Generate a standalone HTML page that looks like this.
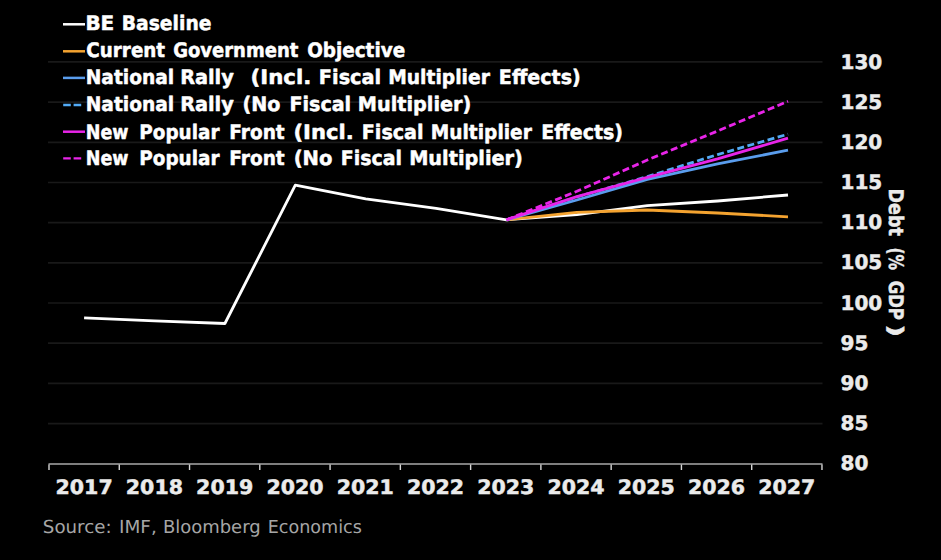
<!DOCTYPE html>
<html><head><meta charset="utf-8"><title>Debt (% GDP)</title>
<style>
html,body{margin:0;padding:0;background:#000;overflow:hidden}
svg{display:block}
text{text-rendering:geometricPrecision}
.b{font-family:"DejaVu Sans","Liberation Sans",sans-serif;font-weight:bold;stroke-width:0.5px;stroke-linejoin:round}
.r{font-family:"DejaVu Sans","Liberation Sans",sans-serif;font-weight:normal}
</style></head><body>
<svg width="941" height="560" viewBox="0 0 941 560">
<rect x="0" y="0" width="941" height="560" fill="#000"/>
<g stroke="#191919" stroke-width="1.7"><line x1="48" y1="423.54" x2="822.5" y2="423.54"/><line x1="48" y1="383.36" x2="822.5" y2="383.36"/><line x1="48" y1="343.19" x2="822.5" y2="343.19"/><line x1="48" y1="303.01" x2="822.5" y2="303.01"/><line x1="48" y1="262.83" x2="822.5" y2="262.83"/><line x1="48" y1="222.66" x2="822.5" y2="222.66"/><line x1="48" y1="182.48" x2="822.5" y2="182.48"/><line x1="48" y1="142.31" x2="822.5" y2="142.31"/><line x1="48" y1="102.13" x2="822.5" y2="102.13"/><line x1="48" y1="61.95" x2="822.5" y2="61.95"/></g>
<g class="b" font-size="20" fill="#ebebeb" stroke="#ebebeb"><text x="840.5" y="470.3">80</text><text x="840.5" y="430.1">85</text><text x="840.5" y="390.0">90</text><text x="840.5" y="349.8">95</text><text x="840.5" y="309.6">100</text><text x="840.5" y="269.4">105</text><text x="840.5" y="229.3">110</text><text x="840.5" y="189.1">115</text><text x="840.5" y="148.9">120</text><text x="840.5" y="108.7">125</text><text x="840.5" y="68.6">130</text></g>
<line x1="48.5" y1="464" x2="822.5" y2="464" stroke="#7e7e7e" stroke-width="2"/>
<g stroke="#d6d6d6" stroke-width="1.4"><line x1="49.00" y1="464.5" x2="49.00" y2="470"/><line x1="119.27" y1="464.5" x2="119.27" y2="470"/><line x1="189.54" y1="464.5" x2="189.54" y2="470"/><line x1="259.81" y1="464.5" x2="259.81" y2="470"/><line x1="330.08" y1="464.5" x2="330.08" y2="470"/><line x1="400.35" y1="464.5" x2="400.35" y2="470"/><line x1="470.62" y1="464.5" x2="470.62" y2="470"/><line x1="540.89" y1="464.5" x2="540.89" y2="470"/><line x1="611.16" y1="464.5" x2="611.16" y2="470"/><line x1="681.43" y1="464.5" x2="681.43" y2="470"/><line x1="751.70" y1="464.5" x2="751.70" y2="470"/><line x1="821.97" y1="464.5" x2="821.97" y2="470"/></g>
<g class="b" font-size="20" fill="#ebebeb" stroke="#ebebeb"><text x="55.60" y="494.3" textLength="57.06" lengthAdjust="spacingAndGlyphs">2017</text><text x="125.87" y="494.3" textLength="57.06" lengthAdjust="spacingAndGlyphs">2018</text><text x="196.14" y="494.3" textLength="57.06" lengthAdjust="spacingAndGlyphs">2019</text><text x="266.41" y="494.3" textLength="57.06" lengthAdjust="spacingAndGlyphs">2020</text><text x="336.68" y="494.3" textLength="57.06" lengthAdjust="spacingAndGlyphs">2021</text><text x="406.95" y="494.3" textLength="57.06" lengthAdjust="spacingAndGlyphs">2022</text><text x="477.22" y="494.3" textLength="57.06" lengthAdjust="spacingAndGlyphs">2023</text><text x="547.49" y="494.3" textLength="57.06" lengthAdjust="spacingAndGlyphs">2024</text><text x="617.76" y="494.3" textLength="57.06" lengthAdjust="spacingAndGlyphs">2025</text><text x="688.03" y="494.3" textLength="57.06" lengthAdjust="spacingAndGlyphs">2026</text><text x="758.30" y="494.3" textLength="57.06" lengthAdjust="spacingAndGlyphs">2027</text></g>
<text class="b" font-size="20" fill="#ebebeb" stroke="#ebebeb" transform="translate(888.6,0) rotate(90)"><tspan x="188.61" textLength="47.21" lengthAdjust="spacingAndGlyphs">Debt</tspan> <tspan x="247.50" textLength="22.48" lengthAdjust="spacingAndGlyphs">(%</tspan> <tspan x="280.63" textLength="39.29" lengthAdjust="spacingAndGlyphs">GDP</tspan> <tspan x="324.36" textLength="12.88" lengthAdjust="spacingAndGlyphs">)</tspan></text>
<text class="r" y="533.4" font-size="18" fill="#a6a6a6"><tspan x="42.86" textLength="68.70" lengthAdjust="spacingAndGlyphs">Source:</tspan> <tspan x="119.01" textLength="37.83" lengthAdjust="spacingAndGlyphs">IMF,</tspan> <tspan x="162.95" textLength="97.71" lengthAdjust="spacingAndGlyphs">Bloomberg</tspan> <tspan x="267.69" textLength="94.18" lengthAdjust="spacingAndGlyphs">Economics</tspan></text>
<polyline points="84.1,317.9 154.5,320.8 224.9,323.5 295.3,185.2 365.7,198.8 436.1,208.3 506.5,219.8 576.9,214.7 647.3,205.6 717.6,201.0 788.0,195.0" fill="none" stroke="#ffffff" stroke-width="2.8" stroke-linejoin="round"/>
<polyline points="506.5,219.8 576.9,212.4 647.3,210.0 717.6,213.0 788.0,216.8" fill="none" stroke="#f4a330" stroke-width="2.8" stroke-linejoin="round"/>
<polyline points="506.5,219.8 576.9,200.0 647.3,179.4 717.6,163.9 788.0,150.2" fill="none" stroke="#5a9ded" stroke-width="2.8" stroke-linejoin="round"/>
<polyline points="506.5,219.8 576.9,197.0 647.3,176.6 717.6,154.6 788.0,134.2" fill="none" stroke="#52aaf5" stroke-width="2.8" stroke-linejoin="round" stroke-dasharray="7 3.5"/>
<polyline points="506.5,219.8 576.9,196.7 647.3,177.3 717.6,158.9 788.0,138.2" fill="none" stroke="#e824e8" stroke-width="2.8" stroke-linejoin="round"/>
<polyline points="506.5,219.8 576.9,191.3 647.3,160.0 717.6,131.0 788.0,101.3" fill="none" stroke="#e824e8" stroke-width="2.8" stroke-linejoin="round" stroke-dasharray="7 3.5"/>
<line x1="63" y1="24.3" x2="85" y2="24.3" stroke="#ffffff" stroke-width="2.5"/>
<text class="b" y="30.4" font-size="20" fill="#ffffff" stroke="#ffffff"><tspan x="85.38" textLength="28.88" lengthAdjust="spacingAndGlyphs">BE</tspan> <tspan x="121.79" textLength="89.68" lengthAdjust="spacingAndGlyphs">Baseline</tspan></text>
<line x1="63" y1="51.3" x2="85" y2="51.3" stroke="#f4a330" stroke-width="2.5"/>
<text class="b" y="57.0" font-size="20" fill="#ffffff" stroke="#ffffff"><tspan x="86.33" textLength="78.79" lengthAdjust="spacingAndGlyphs">Current</tspan> <tspan x="173.15" textLength="125.19" lengthAdjust="spacingAndGlyphs">Government</tspan> <tspan x="307.13" textLength="98.04" lengthAdjust="spacingAndGlyphs">Objective</tspan></text>
<line x1="63" y1="77.9" x2="85" y2="77.9" stroke="#5a9ded" stroke-width="2.5"/>
<text class="b" y="84.0" font-size="20" fill="#ffffff" stroke="#ffffff"><tspan x="85.70" textLength="88.57" lengthAdjust="spacingAndGlyphs">National</tspan> <tspan x="180.14" textLength="53.70" lengthAdjust="spacingAndGlyphs">Rally</tspan> <tspan x="250.59" textLength="60.70" lengthAdjust="spacingAndGlyphs">(Incl.</tspan> <tspan x="318.84" textLength="62.39" lengthAdjust="spacingAndGlyphs">Fiscal</tspan> <tspan x="388.20" textLength="101.67" lengthAdjust="spacingAndGlyphs">Multiplier</tspan> <tspan x="498.86" textLength="81.87" lengthAdjust="spacingAndGlyphs">Effects)</tspan></text>
<line x1="63.2" y1="105.0" x2="81.4" y2="105.0" stroke="#52aaf5" stroke-width="2.4" stroke-dasharray="7.6 2.8"/>
<text class="b" y="111.0" font-size="20" fill="#ffffff" stroke="#ffffff"><tspan x="85.70" textLength="88.57" lengthAdjust="spacingAndGlyphs">National</tspan> <tspan x="180.14" textLength="53.70" lengthAdjust="spacingAndGlyphs">Rally</tspan> <tspan x="242.48" textLength="37.91" lengthAdjust="spacingAndGlyphs">(No</tspan> <tspan x="289.46" textLength="61.65" lengthAdjust="spacingAndGlyphs">Fiscal</tspan> <tspan x="357.85" textLength="113.50" lengthAdjust="spacingAndGlyphs">Multiplier)</tspan></text>
<line x1="63" y1="131.7" x2="85" y2="131.7" stroke="#e824e8" stroke-width="2.5"/>
<text class="b" y="138.5" font-size="20" fill="#ffffff" stroke="#ffffff"><tspan x="85.81" textLength="42.72" lengthAdjust="spacingAndGlyphs">New</tspan> <tspan x="139.33" textLength="80.17" lengthAdjust="spacingAndGlyphs">Popular</tspan> <tspan x="229.31" textLength="55.43" lengthAdjust="spacingAndGlyphs">Front</tspan> <tspan x="293.51" textLength="60.16" lengthAdjust="spacingAndGlyphs">(Incl.</tspan> <tspan x="361.76" textLength="61.86" lengthAdjust="spacingAndGlyphs">Fiscal</tspan> <tspan x="430.81" textLength="101.06" lengthAdjust="spacingAndGlyphs">Multiplier</tspan> <tspan x="541.37" textLength="81.66" lengthAdjust="spacingAndGlyphs">Effects)</tspan></text>
<line x1="63.2" y1="158.4" x2="81.4" y2="158.4" stroke="#e824e8" stroke-width="2.4" stroke-dasharray="7.6 2.8"/>
<text class="b" y="165.0" font-size="20" fill="#ffffff" stroke="#ffffff"><tspan x="85.81" textLength="42.72" lengthAdjust="spacingAndGlyphs">New</tspan> <tspan x="139.33" textLength="80.17" lengthAdjust="spacingAndGlyphs">Popular</tspan> <tspan x="229.31" textLength="55.43" lengthAdjust="spacingAndGlyphs">Front</tspan> <tspan x="293.64" textLength="38.77" lengthAdjust="spacingAndGlyphs">(No</tspan> <tspan x="340.77" textLength="61.23" lengthAdjust="spacingAndGlyphs">Fiscal</tspan> <tspan x="409.14" textLength="113.81" lengthAdjust="spacingAndGlyphs">Multiplier)</tspan></text>
</svg></body></html>
